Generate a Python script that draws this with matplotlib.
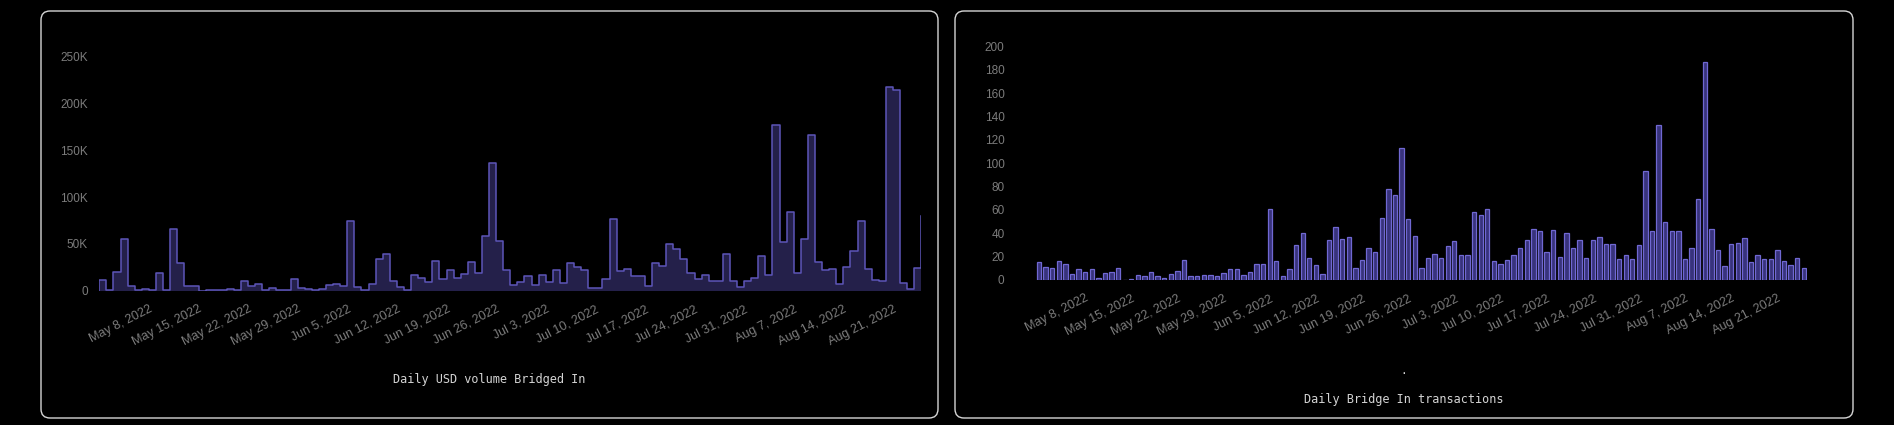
import numpy as np
import pandas as pd
import matplotlib
matplotlib.use("Agg")
import matplotlib.pyplot as plt
from matplotlib.patches import FancyBboxPatch
from matplotlib.transforms import IdentityTransform
from matplotlib.ticker import FixedLocator, FixedFormatter

# ---------------- data ----------------
dates = pd.date_range("2022-05-01", "2022-08-25", freq="D")

usd_volume_k = [
    11, 0.5, 20, 55, 5, 1, 2, 1, 19, 0.5,
    66, 30, 5, 5, 0, 0.3, 0.5, 0.7, 2, 0.3,
    10, 5, 7, 0.5, 3, 1, 1, 12, 3, 2,
    0.8, 2, 6, 7, 5, 75, 4, 0.7, 7.5, 34,
    39, 10, 4, 0.5, 17, 14, 9, 32, 12, 22,
    14, 18, 31, 19, 58, 136, 53, 22, 6, 9,
    16, 6, 17, 9, 22, 8, 30, 25, 22, 2.5,
    3, 12, 77, 21, 23, 16, 16, 5, 30, 26,
    50, 45, 34, 19, 13, 17, 10, 10, 39, 10,
    4, 10, 13.5, 37, 17, 177, 52, 84, 18.5, 55,
    166, 31, 22, 23, 7, 25, 42, 74, 23, 11,
    10, 218, 214, 8, 1.5, 24, 80,
]

tx_counts = [
    15, 11, 10, 16, 14, 5, 9, 7, 9, 2,
    6, 7, 10, 0, 1, 4, 3, 7, 3, 2,
    5, 8, 17, 3, 3, 4, 4, 3, 6, 9,
    9, 4, 7, 14, 14, 61, 16, 3, 9, 30,
    40, 19, 13, 5, 34, 45, 35, 37, 10, 17,
    27, 24, 53, 78, 73, 113, 52, 38, 10, 19,
    22, 19, 29, 33, 21, 21, 58, 56, 61, 16,
    14, 17, 21, 27, 34, 44, 42, 24, 43, 20,
    40, 27, 34, 19, 34, 37, 31, 31, 18, 21,
    18, 30, 93, 42, 133, 50, 42, 42, 18, 27,
    69, 187, 44, 26, 12, 31, 32, 36, 15, 21,
    18, 18, 26, 16, 13, 19, 10,
]

tick_dates = pd.to_datetime([
    "2022-05-08", "2022-05-15", "2022-05-22", "2022-05-29", "2022-06-05",
    "2022-06-12", "2022-06-19", "2022-06-26", "2022-07-03", "2022-07-10",
    "2022-07-17", "2022-07-24", "2022-07-31", "2022-08-07", "2022-08-14",
    "2022-08-21",
])
tick_labels = [
    "May 8, 2022", "May 15, 2022", "May 22, 2022", "May 29, 2022", "Jun 5, 2022",
    "Jun 12, 2022", "Jun 19, 2022", "Jun 26, 2022", "Jul 3, 2022", "Jul 10, 2022",
    "Jul 17, 2022", "Jul 24, 2022", "Jul 31, 2022", "Aug 7, 2022", "Aug 14, 2022",
    "Aug 21, 2022",
]

left_yticks = [0, 50000, 100000, 150000, 200000, 250000]
left_ylabels = ["0", "50K", "100K", "150K", "200K", "250K"]
right_yticks = [0, 20, 40, 60, 80, 100, 120, 140, 160, 180, 200]

left_title = "Daily USD volume Bridged In"
right_title = "Daily Bridge In transactions"

# ---------------- style ----------------
W, H = 1894, 425
BG = "#000000"
PANEL_EDGE = "#d6d6d6"
AREA_FILL = "#24204a"
AREA_LINE = "#5d55b8"
BAR_FILL = "#38337c"
BAR_EDGE = "#7068d2"
TICK_COLOR = "#7c7c7c"
TITLE_COLOR = "#d4d4d4"
SANS = ["Liberation Sans", "DejaVu Sans"]
MONO = ["DejaVu Sans Mono"]

fig = plt.figure(figsize=(W / 100, H / 100), dpi=100, facecolor=BG)


def rect(x0, x1, y_bottom, y_top):
    """pixel box (top-origin y) -> figure fraction rect"""
    return [x0 / W, (H - y_bottom) / H, (x1 - x0) / W, (y_bottom - y_top) / H]


# panels
for px0, px1 in [(41, 938), (955, 1853)]:
    p = FancyBboxPatch((px0, 7), px1 - px0, 407,
                       boxstyle="round,pad=0,rounding_size=9",
                       transform=IdentityTransform(), fill=False,
                       edgecolor=PANEL_EDGE, linewidth=1.0, zorder=0)
    fig.add_artist(p)


def style_axes(ax, ypad):
    ax.set_facecolor("none")
    for s in ax.spines.values():
        s.set_visible(False)
    ax.tick_params(axis="both", length=0, colors=TICK_COLOR)
    ax.tick_params(axis="y", pad=ypad, labelsize=8.5)
    ax.tick_params(axis="x", pad=9, labelsize=9)
    ax.xaxis.set_major_locator(FixedLocator(matplotlib.dates.date2num(tick_dates)))
    ax.xaxis.set_major_formatter(FixedFormatter(tick_labels))
    for lab in ax.get_xticklabels():
        lab.set_rotation(27)
        lab.set_ha("right")
        lab.set_va("top")
        lab.set_rotation_mode("anchor")
        lab.set_family(SANS)
        lab.set_color(TICK_COLOR)
    for lab in ax.get_yticklabels():
        lab.set_family(SANS)
        lab.set_color(TICK_COLOR)


# ---------------- left: step area ----------------
vol = np.array(usd_volume_k) * 1000.0
axL = fig.add_axes(rect(99.3, 921.3, 290.7, 290.7 - 260 * 0.936))
axL.fill_between(dates, vol, 0, step="post", color=AREA_FILL, linewidth=0)
axL.step(dates, vol, where="post", color=AREA_LINE, linewidth=1.1)
axL.vlines(dates[0], 0, vol[0], color=AREA_LINE, linewidth=1.1)
axL.set_xlim(dates[0], dates[-1])
axL.set_ylim(0, 260000)
axL.set_yticks(left_yticks)
axL.set_yticklabels(left_ylabels)
style_axes(axL, ypad=8.4)
fig.text(489.5 / W, (H - 380) / H, left_title, color=TITLE_COLOR,
         family=MONO, fontsize=8.6, ha="center", va="center")

# ---------------- right: bars ----------------
half = pd.Timedelta(hours=12)
axR = fig.add_axes(rect(1035.7, 1807, 280, 280 - 210 * 1.1667))
axR.bar(dates, tx_counts, width=0.66, color=BAR_FILL, edgecolor=BAR_EDGE,
        linewidth=0.9)
axR.set_xlim(dates[0] - half, dates[-1] + half)
axR.set_ylim(0, 210)
axR.set_yticks(right_yticks)
axR.set_yticklabels([str(v) for v in right_yticks])
style_axes(axR, ypad=22.5)
fig.text(1404 / W, (H - 399.5) / H, right_title, color=TITLE_COLOR,
         family=MONO, fontsize=8.6, ha="center", va="center")
fig.text(1404 / W, (H - 371) / H, ".", color=TITLE_COLOR,
         family=MONO, fontsize=8, ha="center", va="center")

fig.savefig("out.png", dpi=100, facecolor=BG)
